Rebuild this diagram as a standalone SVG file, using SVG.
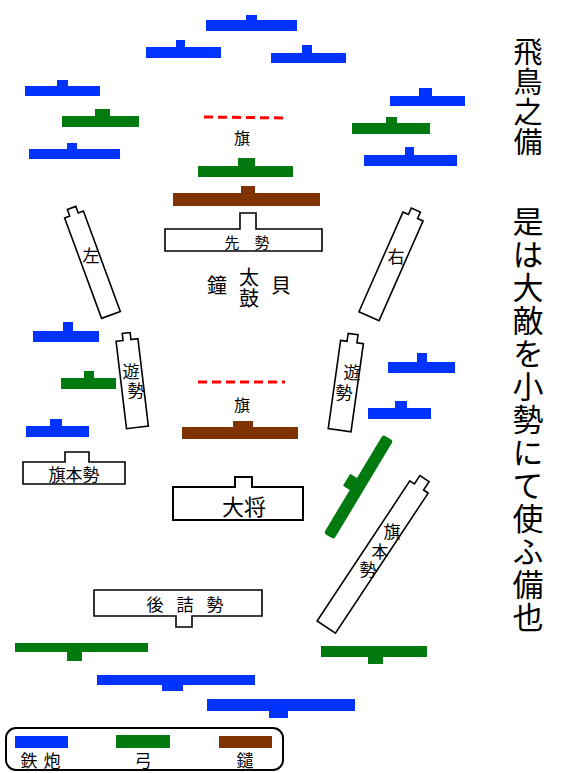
<svg xmlns="http://www.w3.org/2000/svg" width="580" height="773" viewBox="0 0 580 773">
<style>
.gun{fill:#0033ff}
.bow{fill:#037a10}
.spear{fill:#7f3300}
.box{fill:#fff;stroke:#000;stroke-width:1.6;stroke-linejoin:miter}
.flag{stroke:#ff0000;stroke-width:3;stroke-dasharray:9 5;fill:none}
text{font-family:"Noto Sans CJK JP","Noto Sans CJK SC",sans-serif;fill:#000}
.c{text-anchor:middle;dominant-baseline:central}
.v{writing-mode:vertical-rl;text-anchor:start}
</style>
<rect width="580" height="773" fill="#fff"/>
<g id="connectors"/>
<g id="guns">
<path class="gun" d="M206 20h91v11h-91z M246 15h11v6h-11z"/>
<path class="gun" d="M146 47h75v11h-75z M176 40h9v8h-9z"/>
<path class="gun" d="M271 53h75v10h-75z M302 45h10v9h-10z"/>
<path class="gun" d="M25 86h75v10h-75z M57 80h11v7h-11z"/>
<path class="gun" d="M29 149h91v10h-91z M67 143h10v7h-10z"/>
<path class="gun" d="M390 96h75v10h-75z M419 88h13v9h-13z"/>
<path class="gun" d="M364 155h93v11h-93z M405 147h9v9h-9z"/>
<path class="gun" d="M33 331h66v11h-66z M63 322h10v10h-10z"/>
<path class="gun" d="M26 426h63v11h-63z M50 419h12v8h-12z"/>
<path class="gun" d="M388 362h67v11h-67z M417 353h10v10h-10z"/>
<path class="gun" d="M368 408h63v11h-63z M395 401h12v8h-12z"/>
<path class="gun" d="M97 675h158v10h-158z M162 684h21v7h-21z"/>
<path class="gun" d="M207 699h148v12h-148z M269 710h19v8h-19z"/>
</g>
<g id="bows">
<path class="bow" d="M62 116h77v11h-77z M95 109h15v8h-15z"/>
<path class="bow" d="M352 123h78v11h-78z M386 117h11v7h-11z"/>
<path class="bow" d="M198 166h95v11h-95z M238 158h17v9h-17z"/>
<path class="bow" d="M61 378h55v11h-55z M84 371h10v8h-10z"/>
<path class="bow" d="M15 643h133v9h-133z M67 651h15v10h-15z"/>
<path class="bow" d="M321 646h106v11h-106z M368 656h15v8h-15z"/>
<g transform="translate(358.5 487) rotate(-59)">
<rect class="bow" x="-57.5" y="-6" width="115" height="12" rx="3"/>
<rect class="bow" x="-7" y="-14" width="14" height="9" rx="1"/>
</g>
</g>
<g id="spears">
<path class="spear" d="M173 193h147v13h-147z M241 186h14v8h-14z"/>
<path class="spear" d="M182 427h116v12h-116z M233 421h20v7h-20z"/>
</g>
<g id="flags">
<line class="flag" x1="204" y1="117" x2="287" y2="118"/>
<text class="c" x="242" y="137" font-size="16">旗</text>
<line class="flag" x1="198" y1="382" x2="285" y2="382"/>
<text class="c" x="242" y="404" font-size="16">旗</text>
</g>
<g id="sakizei">
<path class="box" d="M165 229H240V213H256V229H322V251H165Z"/>
<text class="c" x="247" y="241" font-size="15">先　勢</text>
</g>
<g id="shouko">
<text class="c" x="217" y="284" font-size="20">鐘</text>
<text class="v" x="249" y="267" font-size="20" letter-spacing="1">太鼓</text>
<text class="c" x="281" y="284" font-size="20">貝</text>
</g>
<g id="hidari">
<path class="box" transform="translate(74 214.5) rotate(-20.2)" d="M-10 0H-4.5V-7H4.5V0H10V107H-10Z"/>
<text class="c" x="91" y="254" font-size="17">左</text>
</g>
<g id="migi">
<path class="box" transform="translate(413 216.5) rotate(23.8)" d="M-11 0H-5V-7H5V0H11V109H-11Z"/>
<text class="c" x="396" y="255" font-size="17">右</text>
</g>
<g id="yuzei-left">
<path class="box" transform="translate(127 340) rotate(-6.8)" d="M-11 0H-4V-7H4V0H11V88H-11Z"/>
<text class="v" x="131 136" y="363.5 382.5" font-size="17">遊勢</text>
</g>
<g id="yuzei-right">
<path class="box" transform="translate(352 342) rotate(8)" d="M-11.5 0H-5V-8H5V0H11.5V89H-11.5Z"/>
<text class="v" x="352 344" y="364.5 384.5" font-size="17">遊勢</text>
</g>
<g id="hatamoto-left">
<path class="box" d="M23 462H65V452H89V462H125V484H23Z"/>
<text class="c" x="74" y="473" font-size="17">旗本勢</text>
</g>
<g id="hatamoto-right">
<path class="box" transform="translate(419 487) rotate(33.5)" d="M-11 0H-5.5V-10H5.5V0H11V168H-11Z"/>
<text class="c" font-size="17"><tspan x="392" y="530">旗</tspan><tspan x="380" y="550">本</tspan><tspan x="368" y="568">勢</tspan></text>
</g>
<g id="taisho">
<path class="box" style="stroke-width:2" d="M173 487H235V477H252V487H303V520H173Z"/>
<text class="c" x="244" y="505" font-size="22">大将</text>
</g>
<g id="atozume">
<path class="box" d="M94 590H262V616H192V627H176V616H94Z"/>
<text class="c" x="184" y="603" font-size="17" letter-spacing="-2">後　詰　勢</text>
</g>
<g id="legend">
<rect x="6" y="728" width="277" height="42" rx="10" fill="#fff" stroke="#000" stroke-width="2"/>
<rect class="gun" x="15" y="736" width="53" height="12"/>
<rect class="bow" x="116" y="735" width="54" height="13"/>
<rect class="spear" x="219" y="736" width="53" height="12"/>
<text class="c" x="41" y="759" font-size="17" letter-spacing="1">鉄 炮</text>
<text class="c" x="143" y="759" font-size="17">弓</text>
<text class="c" x="245" y="759" font-size="17">鑓</text>
</g>
<g id="title">
<text class="v" x="528" y="37.5" font-size="29" letter-spacing="1">飛鳥之備</text>
<text class="v" x="528" y="205.5" font-size="31" letter-spacing="2">是は大敵を小勢にて使ふ備也</text>
</g>
</svg>
